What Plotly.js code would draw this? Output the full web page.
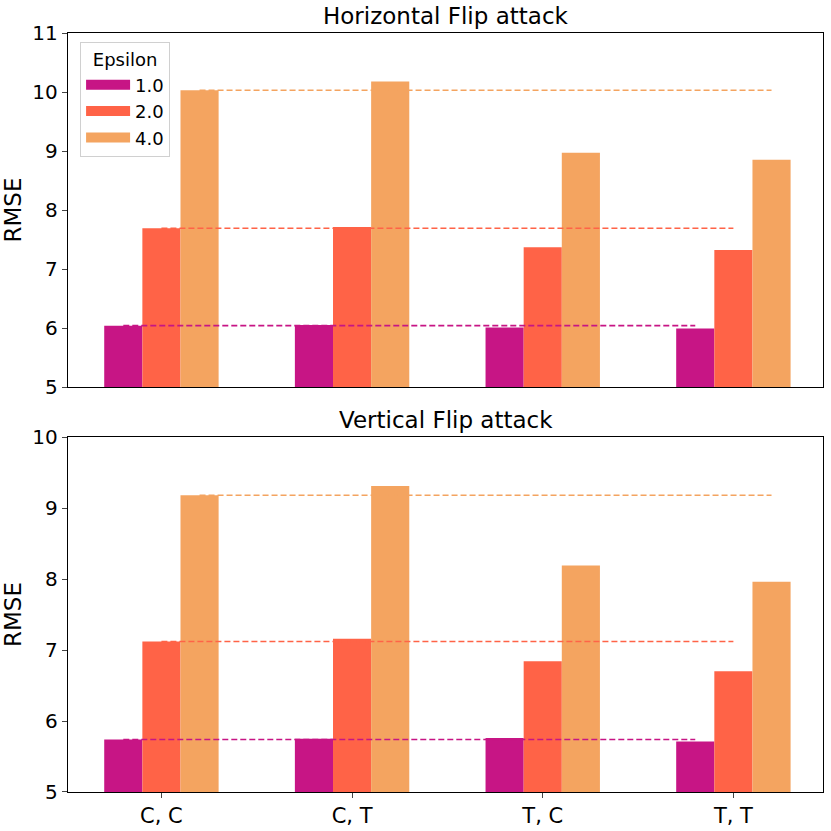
<!DOCTYPE html>
<html>
<head>
<meta charset="utf-8">
<script src="https://cdn.plot.ly/plotly-3.0.1.min.js"></script>
<style>
  html, body { margin: 0; padding: 0; background: #fff; }
  #chart { width: 831px; height: 831px; }
</style>
</head>
<body>
<div id="chart"></div>
<script>
// categories (x) and epsilon settings
const categories = ["C, C", "C, T", "T, C", "T, T"];
const epsilons = ["1.0", "2.0", "4.0"];
const colors = ["#c71585", "#ff6347", "#f4a460"];

// RMSE per epsilon, horizontal flip attack
const hEps1 = [6.04, 6.05, 6.01, 5.99];
const hEps2 = [7.69, 7.71, 7.37, 7.32];
const hEps4 = [10.03, 10.18, 8.97, 8.85];

// RMSE per epsilon, vertical flip attack
const vEps1 = [5.74, 5.75, 5.76, 5.71];
const vEps2 = [7.12, 7.16, 6.84, 6.70];
const vEps4 = [9.18, 9.31, 8.19, 7.96];

const barW = 0.2;
const xPos = categories.map((c, i) => i);

function makeTraces(series, xa, ya) {
  var traces = [];
  series.forEach((vals, k) => {
    var off = (k - 1) * barW;
    traces.push({
      type: "bar",
      name: epsilons[k],
      legendgroup: epsilons[k],
      x: xPos.map((p) => p + off),
      y: vals.map((v) => v - 5),
      base: 5,
      width: barW,
      xaxis: xa,
      yaxis: ya,
      marker: { color: colors[k], line: { width: 0 } },
      showlegend: false,
      hoverinfo: "y",
    });
  });
  // dashed reference line at the first group's value
  series.forEach((vals, k) => {
    var off = (k - 1) * barW;
    traces.push({
      type: "scatter",
      mode: "lines",
      x: [xPos[0] + off, xPos[xPos.length - 1] + off],
      y: [vals[0], vals[0]],
      xaxis: xa,
      yaxis: ya,
      line: { color: colors[k], width: 1.6, dash: "6px,3px" },
      showlegend: false,
      hoverinfo: "skip",
    });
  });
  return traces;
}

var data = makeTraces([hEps1, hEps2, hEps4], "x", "y").concat(
  makeTraces([vEps1, vEps2, vEps4], "x2", "y2")
);

// legend entries drawn as wide patches, like matplotlib's
epsilons.forEach((e, k) => {
  data.push({
    type: "scatter",
    mode: "lines",
    name: e,
    legendgroup: e,
    x: [null],
    y: [null],
    xaxis: "x",
    yaxis: "y",
    line: { color: colors[k], width: 12 },
    hoverinfo: "skip",
  });
});

var font = { family: "DejaVu Sans, sans-serif", color: "#000" };
var xRange = [-0.49, 3.47];
var topDomain = [0.5336, 1];
var botDomain = [0, 0.4677];

var axisCommon = {
  showline: true,
  mirror: true,
  linecolor: "#000",
  linewidth: 1.2,
  showgrid: false,
  zeroline: false,
};

var layout = {
  width: 831,
  height: 831,
  margin: { l: 68, r: 8, t: 33, b: 39 },
  paper_bgcolor: "#fff",
  plot_bgcolor: "#fff",
  font: font,
  barmode: "overlay",
  xaxis: Object.assign({}, axisCommon, {
    anchor: "y",
    range: xRange,
    tickvals: xPos,
    showticklabels: false,
    ticks: "",
  }),
  yaxis: Object.assign({}, axisCommon, {
    domain: topDomain,
    anchor: "x",
    range: [5, 11],
    dtick: 1,
    ticks: "outside",
    ticklen: 5,
    tickfont: { size: 20 },
    title: { text: "RMSE", font: { size: 23 }, standoff: 14 },
  }),
  xaxis2: Object.assign({}, axisCommon, {
    anchor: "y2",
    range: xRange,
    tickvals: xPos,
    ticktext: categories,
    ticks: "outside",
    ticklen: 5,
    tickfont: { size: 21 },
  }),
  yaxis2: Object.assign({}, axisCommon, {
    domain: botDomain,
    anchor: "x2",
    range: [5, 10],
    dtick: 1,
    ticks: "outside",
    ticklen: 5,
    tickfont: { size: 20 },
    title: { text: "RMSE", font: { size: 23 }, standoff: 14 },
  }),
  legend: {
    x: 0.016,
    y: 0.988,
    xanchor: "left",
    yanchor: "top",
    bgcolor: "#fff",
    bordercolor: "#d0d0d0",
    borderwidth: 1,
    font: { size: 18 },
    itemwidth: 44,
    tracegroupgap: 0,
    title: { text: "Epsilon", font: { size: 18 }, side: "top center" },
  },
  annotations: [
    {
      text: "Horizontal Flip attack",
      xref: "paper",
      yref: "paper",
      x: 0.5,
      y: topDomain[1],
      xanchor: "center",
      yanchor: "bottom",
      yshift: 2,
      showarrow: false,
      font: { size: 23 },
    },
    {
      text: "Vertical Flip attack",
      xref: "paper",
      yref: "paper",
      x: 0.5,
      y: botDomain[1],
      xanchor: "center",
      yanchor: "bottom",
      yshift: 2,
      showarrow: false,
      font: { size: 23 },
    },
  ],
};

Plotly.newPlot("chart", data, layout, { displayModeBar: false, staticPlot: true });
</script>
</body>
</html>
